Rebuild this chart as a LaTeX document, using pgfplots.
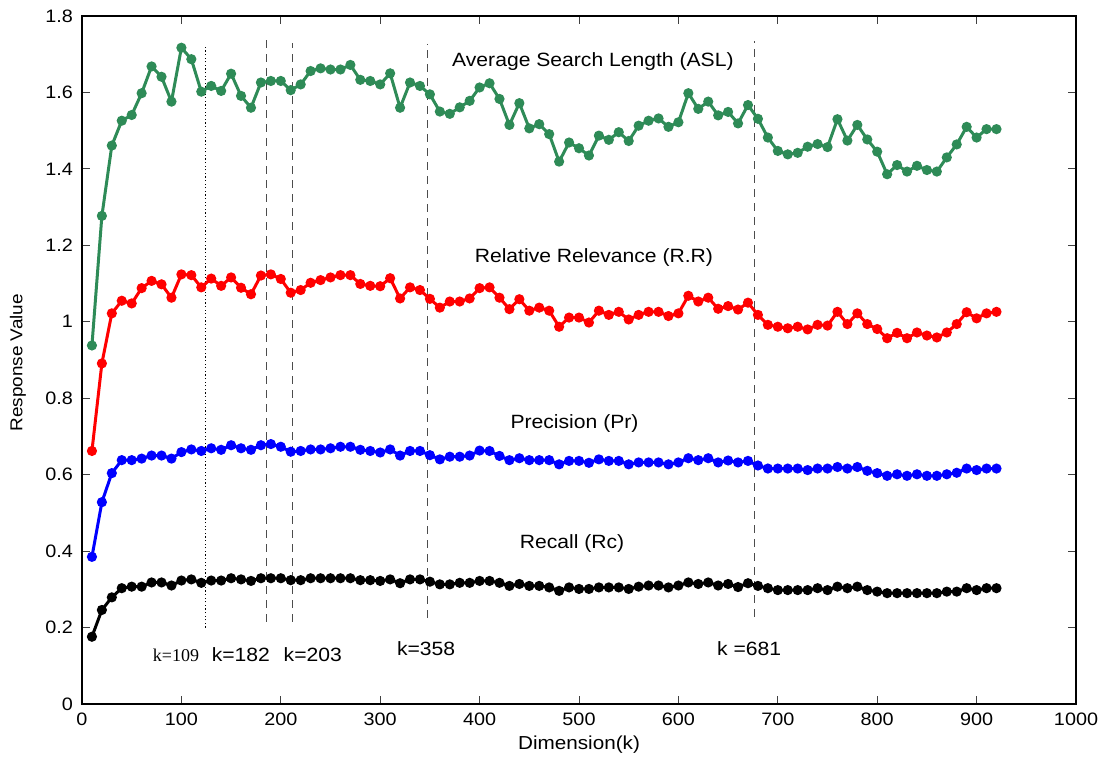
\documentclass[border=0pt]{standalone}
\usepackage{pgfplots}
\pgfplotsset{compat=1.18}
\usepackage{pgfplotstable}
\usepackage{fontspec}
\setmainfont{Liberation Sans}[FakeStretch=1.1]
\newfontfamily\timesfont{Liberation Serif}
\definecolor{aslgreen}{RGB}{46,139,87}

% k  ASL  R.R  Pr  Rc
\pgfplotstableread{
k asl rr pr rc
10 0.938 0.662 0.385 0.176
20 1.277 0.891 0.528 0.246
30 1.461 1.022 0.604 0.279
40 1.526 1.055 0.638 0.303
50 1.541 1.048 0.638 0.307
60 1.598 1.088 0.642 0.307
70 1.668 1.107 0.650 0.318
80 1.641 1.098 0.650 0.318
90 1.576 1.063 0.642 0.310
100 1.717 1.124 0.659 0.323
110 1.687 1.122 0.666 0.326
120 1.602 1.090 0.662 0.317
130 1.617 1.113 0.669 0.323
140 1.604 1.094 0.665 0.323
150 1.649 1.116 0.677 0.329
160 1.591 1.089 0.669 0.326
170 1.560 1.072 0.665 0.322
180 1.626 1.121 0.677 0.329
190 1.630 1.124 0.680 0.329
200 1.630 1.112 0.673 0.329
210 1.606 1.076 0.660 0.324
220 1.621 1.083 0.662 0.324
230 1.656 1.102 0.666 0.329
240 1.663 1.109 0.666 0.329
250 1.660 1.116 0.669 0.329
260 1.660 1.122 0.673 0.329
270 1.672 1.122 0.673 0.329
280 1.633 1.099 0.665 0.324
290 1.630 1.094 0.662 0.324
300 1.621 1.093 0.658 0.322
310 1.650 1.114 0.666 0.326
320 1.560 1.061 0.650 0.316
330 1.626 1.090 0.662 0.326
340 1.617 1.083 0.662 0.326
350 1.595 1.060 0.651 0.320
360 1.550 1.037 0.640 0.313
370 1.544 1.053 0.647 0.313
380 1.561 1.053 0.647 0.317
390 1.578 1.061 0.650 0.317
400 1.613 1.088 0.663 0.322
410 1.624 1.090 0.662 0.322
420 1.583 1.063 0.649 0.317
430 1.515 1.033 0.638 0.309
440 1.572 1.059 0.643 0.314
450 1.506 1.029 0.638 0.309
460 1.517 1.037 0.638 0.309
470 1.491 1.029 0.638 0.305
480 1.419 0.987 0.627 0.296
490 1.469 1.011 0.636 0.305
500 1.454 1.011 0.636 0.301
510 1.435 0.998 0.631 0.301
520 1.487 1.029 0.640 0.305
530 1.476 1.018 0.636 0.305
540 1.496 1.026 0.636 0.305
550 1.473 1.006 0.627 0.301
560 1.513 1.018 0.632 0.307
570 1.526 1.026 0.632 0.310
580 1.532 1.026 0.632 0.310
590 1.510 1.015 0.627 0.305
600 1.522 1.022 0.632 0.310
610 1.598 1.068 0.643 0.318
620 1.557 1.053 0.638 0.314
630 1.576 1.063 0.643 0.318
640 1.540 1.034 0.632 0.310
650 1.549 1.041 0.637 0.314
660 1.519 1.032 0.632 0.306
670 1.567 1.050 0.636 0.316
680 1.531 1.018 0.624 0.309
690 1.482 0.992 0.616 0.303
700 1.447 0.987 0.616 0.298
710 1.438 0.983 0.616 0.298
720 1.442 0.987 0.616 0.298
730 1.458 0.980 0.612 0.298
740 1.465 0.992 0.616 0.303
750 1.457 0.990 0.616 0.298
760 1.530 1.026 0.620 0.307
770 1.474 0.994 0.616 0.303
780 1.515 1.022 0.620 0.307
790 1.477 0.994 0.610 0.298
800 1.445 0.981 0.604 0.294
810 1.386 0.957 0.597 0.290
820 1.410 0.971 0.601 0.290
830 1.393 0.957 0.597 0.290
840 1.408 0.972 0.601 0.290
850 1.397 0.964 0.597 0.290
860 1.393 0.959 0.597 0.290
870 1.430 0.972 0.601 0.294
880 1.464 0.994 0.605 0.294
890 1.510 1.025 0.616 0.303
900 1.482 1.009 0.612 0.298
910 1.504 1.022 0.616 0.303
920 1.504 1.026 0.616 0.303
}\responses

\begin{document}
\begin{tikzpicture}
\path[use as bounding box] (-41pt,-27.5pt) rectangle (512pt,352pt);
\begin{axis}[
  at={(0pt,0pt)}, anchor=south west,
  scale only axis, width=497pt, height=344pt,
  xmin=0, xmax=1000, ymin=0, ymax=1.8,
  xtick={0,100,200,300,400,500,600,700,800,900,1000},
  ytick={0,0.2,0.4,0.6,0.8,1,1.2,1.4,1.6,1.8},
  tick align=inside, major tick length=4pt,
  tick style={line width=0.5pt, black!75},
  axis line style={line width=0.6pt, black},
  /pgf/number format/assume math mode=true,
  /pgf/number format/1000 sep={},
  yticklabel style={/pgf/number format/fixed, font=\fontsize{9}{10}\selectfont, xshift=-1pt},
  xticklabel style={font=\fontsize{9}{10}\selectfont, yshift=-1pt},
  xlabel={Dimension(k)}, ylabel={Response Value},
  label style={font=\fontsize{9.4}{11}\selectfont},
  xlabel style={at={(axis description cs:0.5,-0.0596)}, anchor=center},
  ylabel style={at={(axis description cs:-0.0644,0.496)}, anchor=center, font=\fontsize{8.6}{10}\selectfont},
  clip=false,
  every axis plot/.append style={line width=1.5pt, mark=*, mark size=1.75pt, mark options={solid}},
]
% reference dimensions k
\addplot[black, line width=0.4pt, dash pattern=on 0.6pt off 1.2pt, mark=none] coordinates {(124,0.20) (124,1.72)};
\addplot[black!70, line width=0.45pt, dash pattern=on 4pt off 3pt, mark=none] coordinates {(186,0.215) (186,1.737)};
\addplot[black!70, line width=0.45pt, dash pattern=on 4pt off 3pt, mark=none] coordinates {(212,0.215) (212,1.73)};
\addplot[black!70, line width=0.45pt, dash pattern=on 4pt off 3pt, mark=none] coordinates {(348,0.225) (348,1.727)};
\addplot[black!70, line width=0.45pt, dash pattern=on 4pt off 3pt, mark=none] coordinates {(676,0.228) (676,1.735)};

\addplot[aslgreen] table[x=k, y=asl] {\responses};
\addplot[red] table[x=k, y=rr] {\responses};
\addplot[blue] table[x=k, y=pr] {\responses};
\addplot[black] table[x=k, y=rc] {\responses};

\begin{scope}[every node/.style={font=\fontsize{9.6}{11}\selectfont, anchor=base, inner sep=0pt}]
\node at (axis cs:514,1.667) {Average Search Length (ASL)};
\node at (axis cs:515,1.156) {Relative Relevance (R.R)};
\node at (axis cs:495.5,0.721) {Precision (Pr)};
\node at (axis cs:493,0.407) {Recall (Rc)};
\node[font=\timesfont\fontsize{9}{10}\selectfont] at (axis cs:94.6,0.111) {k=109};
\node at (axis cs:159.8,0.111) {k=182};
\node at (axis cs:232.2,0.111) {k=203};
\node at (axis cs:346.2,0.126) {k=358};
\node at (axis cs:671.2,0.127) {k =681};
\end{scope}
\end{axis}
\end{tikzpicture}
\end{document}
